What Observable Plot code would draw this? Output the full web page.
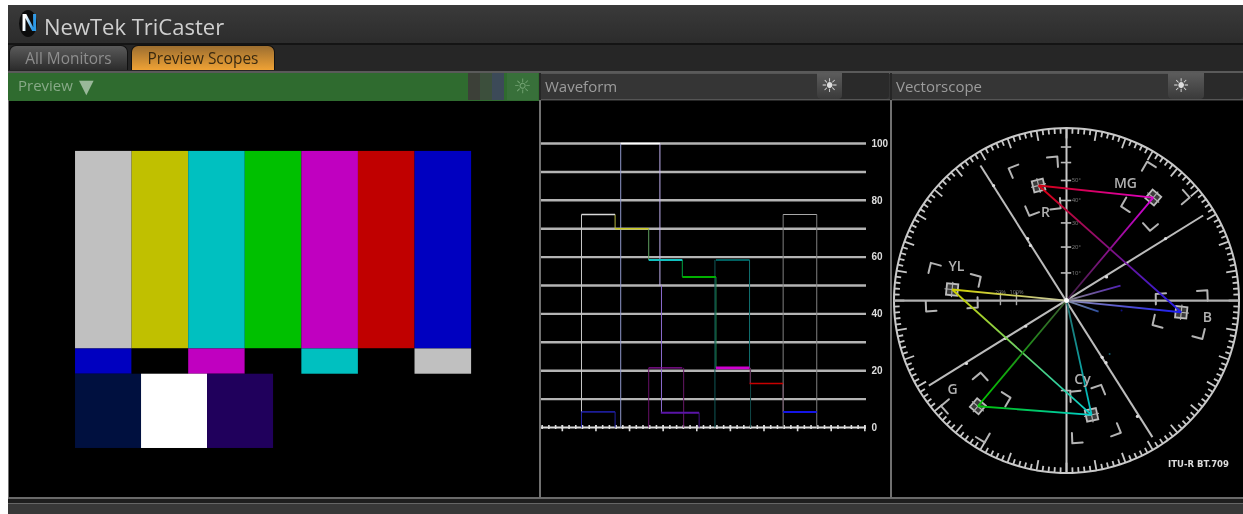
<!DOCTYPE html>
<html><head><meta charset="utf-8">
<script src="https://cdn.jsdelivr.net/npm/d3@7"></script>
<script src="https://cdn.jsdelivr.net/npm/@observablehq/plot@0.6"></script>
<style>
html,body{margin:0;padding:0;background:#fff;width:1243px;height:514px;overflow:hidden}
#app{position:absolute;left:0;top:0;width:1243px;height:514px;filter:blur(.4px);font-family:"Open Sans","Noto Sans",sans-serif}
#app>div{position:absolute;box-sizing:border-box;white-space:nowrap}
svg{display:block;background:#000}
.hdr{background:#353535;color:#9c9c9c;font-size:15px;line-height:24px;padding-left:4px;border-top:1px solid #555;border-bottom:1px solid #555}
.btn{background:linear-gradient(#5c5c5c,#3a3a3a);border-radius:0 0 4px 4px;color:#ddd;text-align:center;font:19px/24px "DejaVu Sans"}
</style></head><body><div id="app"></div>
<script>
// ---------- Preview: colour bars ----------
const topBars = ["#c0c0c0","#c0c000","#00c0c0","#00c000","#c000c0","#c00000","#0000c0"];
const midBars = ["#0000c0","#000000","#c000c0","#000000","#00c0c0","#000000","#c0c0c0"];
const lowEdges = [0, 7/6, 7/3, 7/2];
const lowBars = ["#00103f","#ffffff","#20005c"];
const rowEdges = [0, 0.665, 0.75, 1];

// ---------- Waveform ----------
const waveGrid = [10,20,30,40,50,60,70,80,90,100];
const waveLabels = [0,20,40,60,80,100];
const waveFlat = [
  [0,1,75,"#d8d8d8",1.4],[1,2,70,"#c8c820",1.6],[2,3,59,"#10c0c0",2],[3,4,53,"#00b000",2],
  [4,5,21,"#d000d0",2.6],[5,6,15.5,"#c80000",1.6],[6,7,5.5,"#1414e6",2],
  [0,1,5.5,"#1c1c98",1.6],[2,3,21,"#9010a0",1.4],[4,5,59,"#008080",1.4],[6,7,75,"#a8a8a8",1.2],
  [7/6,7/3,100,"#ffffff",1.6],[2.36,3.5,5.2,"#5a14a8",1.8]
];
const waveRise = [
  [0,5.5,75,"#c8c8c8"],[0,0,5.5,"#2828a8"],[1,70,75,"#b8b840"],[1,0,5.5,"#2020a0"],
  [7/6,0,100,"#9098cc"],[2,59,70,"#60a060"],[2,0,21,"#681068"],
  [7/3,50,100,"#c0b0f0"],[2.38,5.5,50,"#8c6cd0"],[3,53,59,"#00a040"],[3.04,0,21,"#681868"],
  [3.5,0,5.2,"#401080"],[4,21,53,"#209050"],[3.97,0,59,"#105858"],
  [5,21,59,"#107070"],[5.03,0,21,"#104848"],[5.02,15.5,21,"#803060"],
  [6,5.5,15.5,"#703060"],[6,0,75,"#808080"],[7,0,75,"#808080"]
];
const waveMinor = d3.range(-1.17, 8.48, 0.2);
const waveMajor = d3.range(-0.57, 8.48, 1);

// ---------- Vectorscope (100 = outer ring) ----------
const targetNames = ["R","MG","B","Cy","G","YL"];
const targetX = [-16.2, 50.3, 66.5, 14.5, -51.4, -66.3];
const targetY = [66.7, 59.7, -6.8, -66.3, -61.3, 6.4];
const labelX = [-12.2, 34.2, 81.7, 9.3, -66, -63.8];
const labelY = [51, 67.8, -9.9, -45.8, -51.6, 19.7];
const traceEdges = [
  [0,0,-66.3,6.4,"#c8c8a8","#d0d000"],
  [-66.3,6.4,14.5,-66.3,"#d0d000","#00d0d0"],
  [14.5,-66.3,-51.4,-61.3,"#00d0d0","#00c000"],
  [0,0,-51.4,-61.3,"#3c5c30","#00c800"],
  [0,0,50.3,59.7,"#3c2040","#d800d8"],
  [50.3,59.7,-16.2,66.7,"#e000c8","#d00010"],
  [-16.2,66.7,66.5,-6.8,"#e00010","#2020f0"],
  [66.5,-6.8,0,0,"#1818f0","#9090b0"],
  [0,0,14.5,-66.3,"#206868","#00c8c8"],
  [0,0,31.3,8.7,"#888888","#5020b4"],
  [0,0,18.6,-6.4,"#8890a8","#3050a0"]
];
const strayX = [31.9, 25]; const strayY = [-5.8, -31]; const strayColor = ["#101080","#105868"];
const iAxis = [[-49.9,78.3],[49.8,-79.2]];
const qAxis = [[79.2,49.3],[-79.8,-49.3]];
const iMarks = [[-42.3,66.7],[-22.5,35.9],[-20.9,31.9],[20.7,-32.9],[22.9,-36],[41.1,-67.2]];
const qMarks = [[57.4,35.9],[34.8,21.6],[23.2,13.7],[-23.7,-14.9],[-35.4,-21.9],[-58,-36.5]];
const axisTicks = [89,80,69.6,58,45,31,16,-52.2];
const axisTickText = ["50°","40°","30°","20°","10°"];
const axisTextY = [69.6,58,45,31,16];
const hScaleX = [-38.3,-29];
const hScaleText = ["20%","100%"];

const rad = d => d*Math.PI/180;
const polar = (r,a) => [r*Math.cos(rad(a)), r*Math.sin(rad(a))];
const targets = targetNames.map((n,i)=>({n,x:targetX[i],y:targetY[i],lx:labelX[i],ly:labelY[i],
  r:Math.hypot(targetX[i],targetY[i]),a:Math.atan2(targetY[i],targetX[i])*180/Math.PI}));
const ring = d3.range(0,361,2).map(a=>polar(100,a));
const ringTicks = d3.range(0,360,2).map(a=>{const [x1,y1]=polar(100,a);const [x2,y2]=polar(a%10===0?94:96.8,a);return {x1,y1,x2,y2}});
const brackets = targets.flatMap((t,i)=>[-1,1].flatMap(s=>[-1,1].flatMap(u=>{
  const R=t.r+s*15, A=t.a+u*10, id=`${i}${s}${u}`;
  return [polar(R-s*6,A),polar(R,A),polar(R,A-u*6/R*180/Math.PI)].map(p=>({id,x:p[0],y:p[1]}));
})));
const edges = traceEdges.map((e,i)=>({x1:e[0],y1:e[1],x2:e[2],y2:e[3],c1:e[4],c2:e[5],id:`url(#tr${i})`,k:i}));
const defsMark = () => {
  const defs = d3.create("svg:defs");
  edges.forEach(e=>{
    const g = defs.append("linearGradient").attr("id",`tr${e.k}`)
      .attr("x1",e.x2>=e.x1?0:1).attr("x2",e.x2>=e.x1?1:0)
      .attr("y1",e.y2<=e.y1?0:1).attr("y2",e.y2<=e.y1?1:0);
    g.append("stop").attr("offset",0).attr("stop-color",e.c1);
    g.append("stop").attr("offset",1).attr("stop-color",e.c2);
  });
  return defs.node();
};

// ---------- Charts ----------
const rectRows = [
  ...topBars.map((c,i)=>({x1:i,x2:i+1,y1:rowEdges[0],y2:rowEdges[1],c})),
  ...midBars.map((c,i)=>({x1:i,x2:i+1,y1:rowEdges[1],y2:rowEdges[2],c})),
  ...lowBars.map((c,i)=>({x1:lowEdges[i],x2:lowEdges[i+1],y1:rowEdges[2],y2:rowEdges[3],c}))
];
const preview = Plot.plot({
  width:530,height:396,margin:0,
  x:{domain:[-1.167,8.2],range:[0,530],axis:null},
  y:{domain:[-0.168,1.165],range:[0,396],axis:null},
  color:{type:"identity"},
  style:{background:"#000"},
  marks:[Plot.rect(rectRows,{x1:"x1",x2:"x2",y1:"y1",y2:"y2",fill:"c",inset:0})]
});

const waveform = Plot.plot({
  width:349,height:396,marginTop:0,marginBottom:0,marginLeft:0,marginRight:24,
  x:{domain:[-1.19,8.48],range:[0,325],axis:null},
  y:{domain:[114.8,-24.65],range:[0,396],axis:null},
  color:{type:"identity"},
  style:{background:"#000"},
  marks:[
    Plot.ruleY(waveGrid,{stroke:"#b4b4b4",strokeWidth:2.4}),
    Plot.ruleY([0],{stroke:"#dcdcdc",strokeWidth:2}),
    Plot.ruleX(waveMinor,{y1:-0.7,y2:0.7,stroke:"#ddd",strokeWidth:1.6}),
    Plot.ruleX(waveMajor,{y1:-1.5,y2:0.7,stroke:"#ddd",strokeWidth:1.6}),
    Plot.link(waveRise,{x1:d=>d[0],x2:d=>d[0],y1:d=>d[1],y2:d=>d[2],stroke:d=>d[3],strokeWidth:1}),
    Plot.link(waveFlat,{x1:d=>d[0],x2:d=>d[1],y1:d=>d[2],y2:d=>d[2],stroke:d=>d[3],strokeWidth:d=>d[4]}),
    Plot.axisY({anchor:"right",ticks:waveLabels,tickSize:0,tickPadding:5,label:null,tickFormat:d=>d,
      fontSize:10,fontWeight:"bold",fontFamily:"Liberation Sans",fill:"#dddddd"})
  ]
});

const H = "#c8c8c8";
const vector = Plot.plot({
  width:351,height:396,margin:0,
  x:{domain:[-100.87,102.6],range:[0,351],axis:null},
  y:{domain:[115.4,-114.2],range:[0,396],axis:null},
  color:{type:"identity"},
  style:{background:"#000"},
  marks:[
    defsMark,
    Plot.line(ring,{stroke:H,strokeWidth:2}),
    Plot.link(ringTicks,{x1:"x1",y1:"y1",x2:"x2",y2:"y2",stroke:H,strokeWidth:1.8}),
    Plot.ruleX([0],{y1:-100,y2:100,stroke:H,strokeWidth:2}),
    Plot.ruleY([0],{x1:-100,x2:100,stroke:"#b0b0b0",strokeWidth:2.2}),
    Plot.link([iAxis,qAxis],{x1:d=>d[0][0],y1:d=>d[0][1],x2:d=>d[1][0],y2:d=>d[1][1],stroke:"#bcbcbc",strokeWidth:2}),
    Plot.dot([...iMarks,...qMarks],{x:d=>d[0],y:d=>d[1],r:1.6,fill:"#ddd"}),
    Plot.ruleY(axisTicks,{x1:-3,x2:3,stroke:"#bbb",strokeWidth:1.6}),
    Plot.ruleX(hScaleX,{y1:-3,y2:4.5,stroke:"#aaa",strokeWidth:1.4}),
    Plot.text(axisTextY,{x:3,y:d=>d,text:(d,i)=>axisTickText[i],textAnchor:"start",fontSize:6,fill:"#777"}),
    Plot.text(hScaleX,{x:d=>d,y:4.8,text:(d,i)=>hScaleText[i],fontSize:5.5,fill:"#777"}),
    Plot.line(brackets,{x:"x",y:"y",z:"id",stroke:"#b4b4b4",strokeWidth:2}),
    Plot.dot(targets,{x:"x",y:"y",symbol:"square",r:6.4,rotate:d=>-d.a,stroke:"#bcbcbc",strokeWidth:1.8,fill:"#3a3a3a"}),
    Plot.dot(targets,{x:"x",y:"y",symbol:"plus",r:5,rotate:d=>-d.a,stroke:"#b0b0b0",strokeWidth:1.2}),
    Plot.link(edges,{x1:"x1",y1:"y1",x2:"x2",y2:"y2",stroke:"id",strokeWidth:1.8}),
    Plot.dot(strayX,{x:d=>d,y:(d,i)=>strayY[i],r:1,fill:(d,i)=>strayColor[i]}),
    Plot.dot([0],{x:0,y:0,r:2.5,fill:"#fff"}),
    Plot.text(targets,{x:"lx",y:"ly",text:"n",fontSize:14,fontWeight:600,fill:"#b0b0b0",fontFamily:"Open Sans"}),
    Plot.text(["ITU-R BT.709"],{x:76.5,y:-95,fontSize:8.5,fontWeight:"bold",fontFamily:"DejaVu Sans",fill:"#dcdcdc"})
  ]
});

// ---------- Chrome ----------
const app = document.getElementById("app");
function box(l,t,w,h,css,txt,cls){
  const d=document.createElement("div");
  d.style.cssText=`left:${l}px;top:${t}px;width:${w}px;height:${h}px;${css||""}`;
  if(txt) d.textContent=txt;
  if(cls) d.className=cls;
  app.appendChild(d); return d;
}
box(8,5,1235,509,"background:#262626");
box(8,5,1235,38,"background:linear-gradient(#3a3a3a,#2c2c2c)");
box(8,43,1235,2,"background:#141414");
box(19,10,18,27,"background:#0c0c0c;border-radius:50%");
box(21,8,16,30,'font:bold 23px/30px "Liberation Sans";color:transparent;background:linear-gradient(100deg,#fff 30%,#2c9ae8 70%);-webkit-background-clip:text;background-clip:text',"N");
box(44,11,220,30,"color:#cfcfcf;font-size:22px;line-height:30px","NewTek TriCaster");
box(9,45,119,25,"background:linear-gradient(#5a5a5a,#2c2c2c);border-radius:7px 7px 0 0;color:#8e8e8e;font-size:15.4px;line-height:25px;text-align:center;border:1px solid #111;border-bottom:0","All Monitors");
box(131,45,144,25,"background:linear-gradient(#9c6e30,#efa235);border-radius:7px 7px 0 0;color:#3a2a10;font-size:15.4px;line-height:25px;text-align:center;border:1px solid #111;border-bottom:0","Preview Scopes");
box(8,71,1235,2,"background:#5a5a5a");
box(8,73,531,28,"background:#2f6b2f");
box(18,73,60,27,"color:#88aa88;font-size:15px;line-height:25px","Preview");
box(79,73,20,27,"color:#9ab89a;font:19px/26px 'DejaVu Sans'","▼");
box(468,73,12,27,"background:#3c4038");
box(480,73,12,27,"background:#3c4f3c");
box(492,73,12,27,"background:#3c4a58");
box(507,73,31,27,"background:#38703a;color:#74a474;text-align:center;font:20px/26px 'DejaVu Sans'","☼");
box(541,73,349,27,"","Waveform","hdr");
box(892,73,351,27,"","Vectorscope","hdr");
box(817,73,72,26,"background:#2a2a2a;border-radius:0 0 4px 4px");
box(817,73,25,26,"","☀","btn");
box(1168,73,75,26,"background:#2a2a2a;border-radius:0 0 4px 4px");
box(1168,73,36,26,"padding-right:10px","☀","btn");
box(8,497,1235,2,"background:#6a6a6a");
box(8,499,1235,4,"background:#1e1e1e");
box(8,503,1235,11,"background:#383838;border-top:1px solid #666");
box(8,100,1,398,"background:#707070");
box(539,100,2,398,"background:#707070");
box(890,100,2,398,"background:#707070");
const place=(n,l)=>{const d=box(l,101,n.getAttribute("width"),396);d.appendChild(n);};
place(preview,9); place(waveform,541); place(vector,892);
</script></body></html>
